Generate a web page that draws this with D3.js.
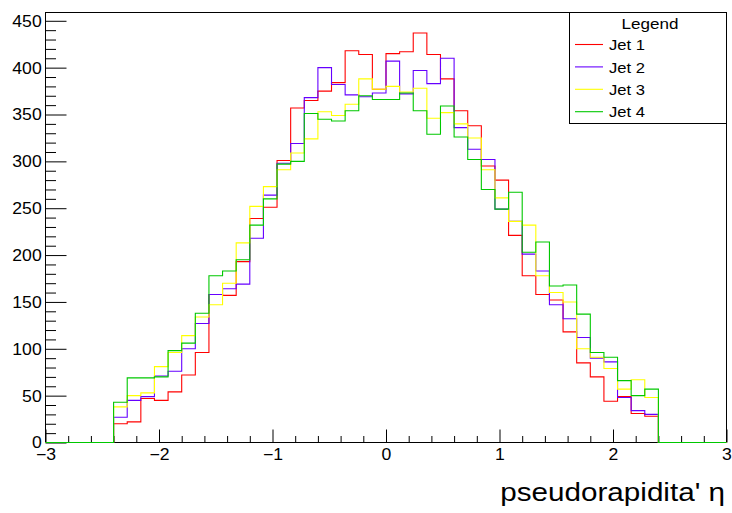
<!DOCTYPE html>
<html>
<head>
<meta charset="utf-8">
<script src="https://cdn.jsdelivr.net/npm/d3@7"></script>
<style>
  body { margin: 0; background: #fff; }
  svg { display: block; }
  text { font-family: "Liberation Sans", Arial, Helvetica, sans-serif; fill: #000; font-weight: normal; }
</style>
</head>
<body>
<svg id="chart" width="732" height="513"></svg>
<script>
// Histogram binning: 50 bins over pseudorapidity -3 .. 3
const etaLow = -3, etaHigh = 3, nBins = 50;

// Entries per bin for each jet
const jet1 = [0,0,0,0,0,
  20,22,47,45,54,72,96,158,157,193,
  239,251,301,357,365,375,384,418,414,377,
  415,417,437,414,388,354,338,295,280,221,
  178,158,152,118,85,70,44,49,31,28,
  0,0,0,0,0];
const jet2 = [0,0,0,0,0,
  27,45,49,71,76,100,127,158,164,169,
  218,264,298,319,368,400,382,371,369,373,
  407,372,397,383,410,336,313,302,249,236,
  201,183,147,132,112,90,86,48,34,30,
  0,0,0,0,0];
const jet3 = [0,0,0,0,0,
  38,50,53,81,96,114,134,147,170,213,
  252,273,291,309,324,353,349,361,388,377,
  380,374,378,346,352,340,325,291,261,236,
  232,178,160,150,100,91,79,57,67,48,
  0,0,0,0,0];
const jet4 = [0,0,0,0,0,
  43,69,69,70,98,106,138,178,183,195,
  232,260,297,300,351,345,343,354,370,366,
  366,373,354,329,359,326,302,270,249,267,
  203,214,167,168,137,96,91,66,50,57,
  0,0,0,0,0];

const seriesNames = ["Jet 1", "Jet 2", "Jet 3", "Jet 4"];
const seriesColors = ["#ff0000", "#6600ff", "#ffff00", "#00c800"];
const xTickValues = [-3, -2, -1, 0, 1, 2, 3];
const yTickValues = [0, 50, 100, 150, 200, 250, 300, 350, 400, 450];
const xTitle = "pseudorapidita' \u03b7";
const legendTitle = "Legend";

const series = [jet1, jet2, jet3, jet4];

// Frame geometry
const frameL = 45.5, frameR = 726.5, frameT = 12.5, frameB = 442.5;

const svg = d3.select("#chart");
svg.append("rect").attr("width", 732).attr("height", 513).attr("fill", "#fff");

const yMax = d3.max(series.flat()) * 1.05;
const x = d3.scaleLinear().domain([etaLow, etaHigh]).range([frameL, frameR]);
const y = d3.scaleLinear().domain([0, yMax]).range([frameB, frameT]);

// Frame
svg.append("rect")
  .attr("x", frameL).attr("y", frameT)
  .attr("width", frameR - frameL).attr("height", frameB - frameT)
  .attr("fill", "none").attr("stroke", "#000").attr("stroke-width", 1);

// Minor tick positions
const xMinor = d3.range(0, 31).filter(i => i % 5 !== 0).map(i => etaLow + i * 0.2);
const yMinor = d3.range(0, 46).filter(i => i % 5 !== 0).map(i => i * 10).filter(v => v <= yMax);

// X axis (ticks point into the frame)
const gxMinor = svg.append("g").attr("transform", `translate(0,${frameB})`)
  .call(d3.axisBottom(x).tickValues(xMinor).tickSizeInner(-6.5).tickSizeOuter(0).tickFormat(""));
gxMinor.select(".domain").remove();

const gx = svg.append("g").attr("transform", `translate(0,${frameB})`)
  .call(d3.axisBottom(x).tickValues(xTickValues).tickSizeInner(-13).tickSizeOuter(0)
    .tickPadding(6).tickFormat(d3.format("d")));
gx.select(".domain").remove();
gx.selectAll("text")
  .attr("font-size", 16)
  .attr("font-family", "Liberation Sans, Arial, sans-serif")
  .attr("transform", "scale(1.1,1)");

// Y axis
const gyMinor = svg.append("g").attr("transform", `translate(${frameL},0)`)
  .call(d3.axisLeft(y).tickValues(yMinor).tickSizeInner(-10.5).tickSizeOuter(0).tickFormat(""));
gyMinor.select(".domain").remove();

const gy = svg.append("g").attr("transform", `translate(${frameL},0)`)
  .call(d3.axisLeft(y).tickValues(yTickValues).tickSizeInner(-21).tickSizeOuter(0)
    .tickPadding(3.5).tickFormat(d3.format("d")));
gy.select(".domain").remove();
gy.selectAll("text")
  .attr("font-size", 16)
  .attr("font-family", "Liberation Sans, Arial, sans-serif")
  .attr("dy", "0.34em")
  .attr("transform", "scale(1.1,1)");

// Histograms drawn as step outlines
const edges = d3.range(nBins + 1).map(i => etaLow + i * (etaHigh - etaLow) / nBins);
const step = d3.line()
  .x(d => x(d[0]))
  .y(d => y(d[1]))
  .curve(d3.curveStepAfter);

series.forEach((counts, s) => {
  const pts = counts.map((c, i) => [edges[i], c]);
  pts.push([edges[nBins], counts[nBins - 1]]);
  svg.append("path")
    .datum(pts)
    .attr("d", step)
    .attr("fill", "none")
    .attr("stroke", seriesColors[s])
    .attr("stroke-width", 1.1);
});

// Axis title
svg.append("text")
  .attr("transform", "translate(725,501) scale(1.14,1)")
  .attr("text-anchor", "end")
  .attr("font-size", 26)
  .text(xTitle);

// Legend
const lg = svg.append("g");
lg.append("rect")
  .attr("x", 569.5).attr("y", frameT)
  .attr("width", frameR - 569.5).attr("height", 111)
  .attr("fill", "#fff").attr("stroke", "#000").attr("stroke-width", 1);
lg.append("text")
  .attr("transform", "translate(650,28.5) scale(1.1,1)")
  .attr("text-anchor", "middle")
  .attr("font-size", 15.5)
  .text(legendTitle);
seriesNames.forEach((name, i) => {
  const ry = 44.5 + i * 22.4;
  lg.append("line")
    .attr("x1", 575).attr("x2", 603)
    .attr("y1", ry).attr("y2", ry)
    .attr("stroke", seriesColors[i]).attr("stroke-width", 1.1);
  lg.append("text")
    .attr("transform", `translate(609,${ry + 5.6}) scale(1.07,1)`)
    .attr("font-size", 15.5)
    .text(name);
});
</script>
</body>
</html>
